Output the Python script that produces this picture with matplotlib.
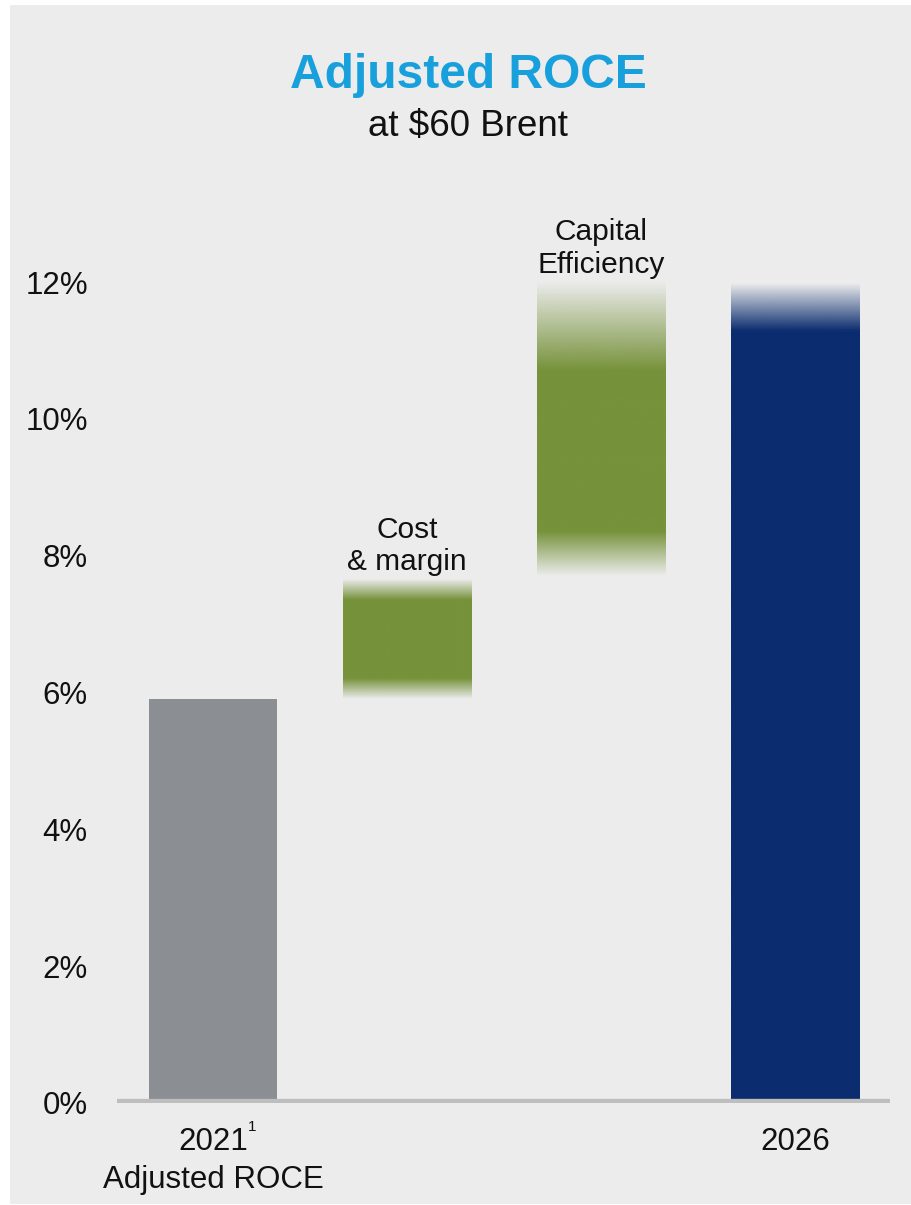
import numpy as np
import matplotlib
matplotlib.use("Agg")
import matplotlib.pyplot as plt
from matplotlib.colors import to_rgb
from matplotlib.patches import Rectangle

plt.rcParams['font.family'] = ['Liberation Sans', 'DejaVu Sans']

# data (ROCE, %)
steps = ["2021 Adjusted ROCE", "Cost & margin", "Capital Efficiency", "2026"]
bottoms = [0.0, 5.9, 7.7, 0.0]
tops = [5.9, 7.65, 12.0, 12.0]
yticks = [0, 2, 4, 6, 8, 10, 12]
ytick_labels = ["0%", "2%", "4%", "6%", "8%", "10%", "12%"]

# style
bg = "#ececec"
grey = "#8b8e92"
green = "#76923a"
navy = "#0b2c6f"
colors = [grey, green, green, navy]
# fade length (in % units) at bottom / top of each bar
fades = [(0, 0), (0.3, 0.3), (0.65, 1.3), (0, 0.7)]
bar_w = 0.66

fig = plt.figure(figsize=(9.11, 12.05), dpi=100)
fig.patch.set_facecolor("white")
fig.patches.append(Rectangle((10 / 911, 1 / 1205), 1, 1199 / 1205,
                             transform=fig.transFigure, facecolor=bg,
                             edgecolor="none", zorder=-10))

ax = fig.add_axes([117 / 911, 102 / 1205, 773 / 911, 903 / 1205])
ax.set_facecolor("none")

for i, (b, t, c, (fb, ft)) in enumerate(zip(bottoms, tops, colors, fades)):
    if fb == 0 and ft == 0:
        ax.bar(i, t - b, bottom=b, width=bar_w, color=c, zorder=2)
        continue
    ys = np.linspace(b, t, 400)
    alpha = np.ones_like(ys)
    if fb > 0:
        alpha = np.minimum(alpha, (ys - b) / fb)
    if ft > 0:
        alpha = np.minimum(alpha, (t - ys) / ft)
    alpha = np.clip(alpha, 0, 1)
    img = np.zeros((len(ys), 1, 4))
    img[:, 0, :3] = to_rgb(c)
    img[:, 0, 3] = alpha
    ax.imshow(img, extent=(i - bar_w / 2, i + bar_w / 2, b, t), origin="lower",
              aspect="auto", interpolation="bilinear", zorder=2)

ax.set_xlim(-0.495, 3.49)
ax.set_ylim(0, 903 / 68.4)
ax.axhline(0, color="#bebebe", lw=6, zorder=3)

for s in ax.spines.values():
    s.set_visible(False)
ax.set_xticks([])
ax.set_yticks(yticks)
ax.set_yticklabels(ytick_labels)
ax.tick_params(axis="y", length=0, pad=21, labelsize=22.5, labelcolor="#111111")

# bar labels
ax.text(1, tops[1] + 0.05, "Cost\n& margin", ha="center", va="bottom",
        fontsize=21.5, linespacing=1.2, color="#111111")
ax.text(2, tops[2] + 0.05, "Capital\nEfficiency", ha="center", va="bottom",
        fontsize=21.5, linespacing=1.2, color="#111111")

# category labels
ax.text(0, -0.57, "2021", ha="center", va="center", fontsize=22.5,
        color="#111111", clip_on=False)
ax.text(0.18, -0.35, "1", ha="left", va="center", fontsize=11,
        color="#111111", clip_on=False)
ax.text(0, -1.13, "Adjusted ROCE", ha="center", va="center", fontsize=22.5,
        color="#111111", clip_on=False)
ax.text(3, -0.57, "2026", ha="center", va="center", fontsize=22.5,
        color="#111111", clip_on=False)

# title
fig.text(468 / 911, 1 - 76 / 1205, "Adjusted ROCE", ha="center", va="center",
         fontsize=34.5, fontweight="bold", color="#18a0dc")
fig.text(468 / 911, 1 - 127 / 1205, "at $60 Brent", ha="center", va="center",
         fontsize=26.5, color="#111111")

fig.savefig("out.png", dpi=100, facecolor=fig.get_facecolor())
